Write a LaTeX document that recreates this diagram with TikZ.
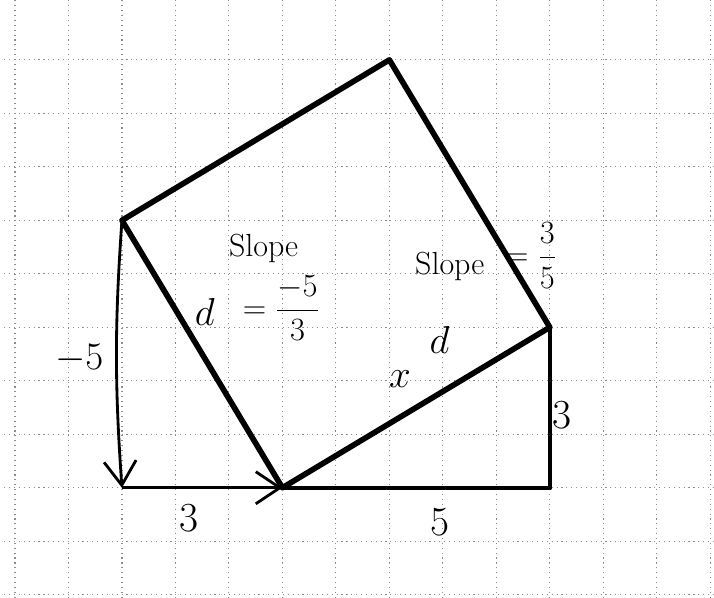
\documentclass[tikz,border=0pt]{standalone}
\usetikzlibrary{arrows.meta}
\begin{document}
\begin{tikzpicture}[
  gridline/.style={black!45, dotted, line width=0.6pt},
  side/.style={line width=3pt, line join=round, line cap=round},
  base/.style={line width=2.4pt, line cap=round},
  vec/.style={line width=1.5pt, -{Straight Barb[length=4.5mm,width=6mm]}},
  lbl/.style={font=\fontsize{22}{24}\selectfont, inner sep=0pt},
  eqn/.style={font=\fontsize{17}{20}\selectfont, inner sep=0pt},
  word/.style={font=\fontsize{17}{20}\selectfont, inner sep=0pt}
]
\useasboundingbox (-2.28,-2.056) rectangle (11.07,9.12);
\fill[white] (-2.28,-2.056) rectangle (11.07,9.12);
% graph paper
\foreach \x in {-2,...,11} \draw[gridline] (\x,-2.056) -- (\x,9.12);
\foreach \y in {-2,...,8} \draw[gridline] (-2.2,\y) -- (11.07,\y);
% points
\coordinate (A) at (0,0);
\coordinate (B) at (3,0);
\coordinate (C) at (8,0);
\coordinate (D) at (8,3);
\coordinate (E) at (5,8);
\coordinate (F) at (0,5);
% square
\draw[side] (B) -- (D) -- (E) -- (F) -- cycle;
% right triangle legs
\draw[base] (B) -- (C);
\draw[base] (C) -- (D);
% vectors
\draw[vec] (F) to[bend right=4] (A);
\draw[vec] (A) -- (B);
% labels
\node[lbl] (m5) at (-0.8,2.41) {$-5$};
\node[lbl] (b3) at (1.25,-0.57) {3};
\node[lbl] (b5) at (5.94,-0.64) {5};
\node[lbl] (r3) at (8.22,1.36) {3};
\node[lbl] (d1) at (1.55,3.29) {$d$};
\node[lbl] (d2) at (5.94,2.77) {$d$};
\node[lbl] (xx) at (5.2,2.04) {$x$};
\node[word] (s1) at (2.65,4.47) {Slope};
\node[eqn] (e1) at (2.98,3.36) {$\displaystyle=\frac{-5}{3}$};
\node[word] (s2) at (6.13,4.13) {Slope};
\node[eqn] (e2) at (7.65,4.34) {$\displaystyle=\frac{3}{5}$};
\end{tikzpicture}
\end{document}
